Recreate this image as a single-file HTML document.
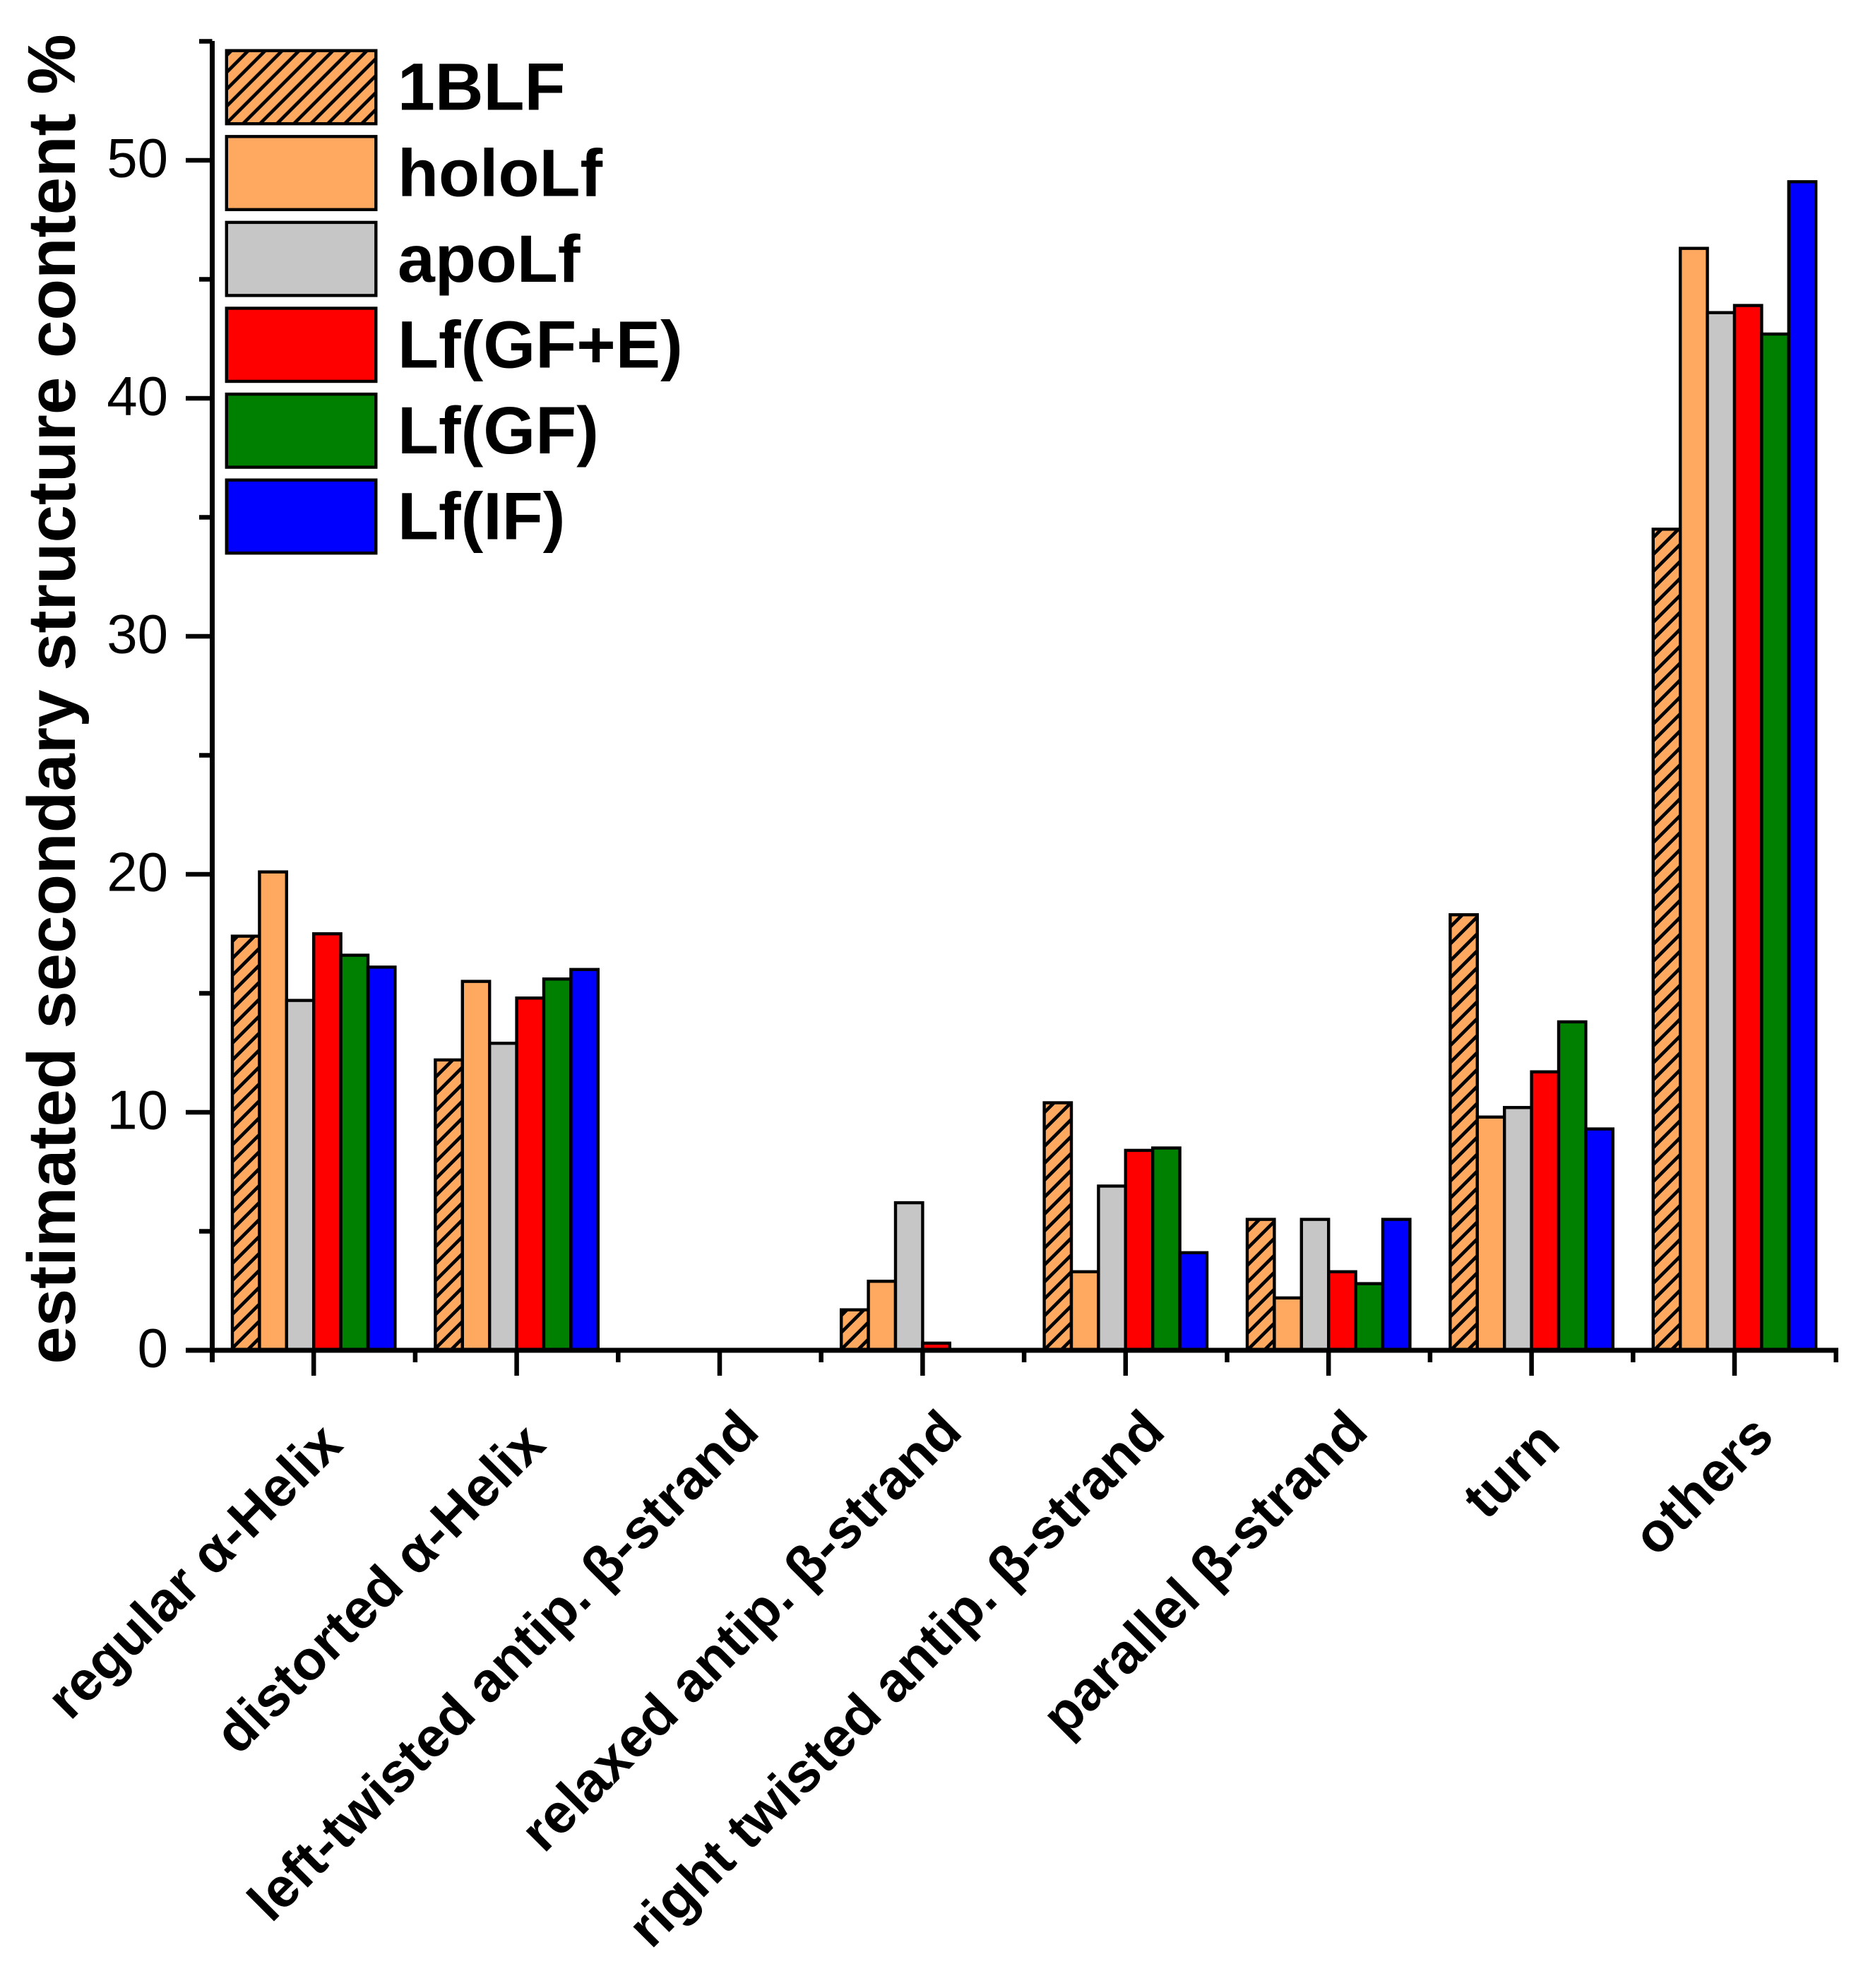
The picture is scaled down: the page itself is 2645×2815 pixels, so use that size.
<!DOCTYPE html>
<html lang="en">
<head>
<meta charset="utf-8">
<title>Estimated secondary structure content</title>
<style>
html,body{margin:0;padding:0;background:#fff;width:2645px;height:2815px;overflow:hidden}
svg{display:block}
text{font-family:"Liberation Sans",Arial,sans-serif;fill:#000}
</style>
</head>
<body>
<svg id="chart" xmlns="http://www.w3.org/2000/svg" width="2645" height="2815" viewBox="0 0 2645 2815">
<defs>
<pattern id="hatch" patternUnits="userSpaceOnUse" width="24" height="24" patternTransform="translate(6,0)">
<rect width="24" height="24" fill="#FFA860"/>
<path d="M-6 6L6 -6M-6 30L30 -6M18 30L30 18" stroke="#000" stroke-width="4.8" fill="none"/>
</pattern>
<pattern id="hatch-legend" patternUnits="userSpaceOnUse" width="24" height="24" patternTransform="translate(15.3,0)">
<rect width="24" height="24" fill="#FFA860"/>
<path d="M-6 6L6 -6M-6 30L30 -6M18 30L30 18" stroke="#000" stroke-width="4.8" fill="none"/>
</pattern>
</defs>
<rect width="2645" height="2815" fill="#fff"/>
<g id="bars"></g>
<g id="axes"></g>
<g id="legend"></g>
<text transform="translate(106,990) rotate(-90)" text-anchor="middle" font-size="96" font-weight="700">estimated secondary structure content %</text>
</svg>
<script>
const categories = ["regular α-Helix","distorted α-Helix","left-twisted antip. β-strand","relaxed antip. β-strand","right twisted antip. β-strand","parallel β-strand","turn","others"];
const seriesNames = ["1BLF","holoLf","apoLf","Lf(GF+E)","Lf(GF)","Lf(IF)"];
const seriesFills = ["url(#hatch)","#FFA860","#C6C6C6","#FF0000","#008000","#0000FF"];
const s1BLF = [17.4,12.2,0,1.7,10.4,5.5,18.3,34.5];
const sHoloLf = [20.1,15.5,0,2.9,3.3,2.2,9.8,46.3];
const sApoLf = [14.7,12.9,0,6.2,6.9,5.5,10.2,43.6];
const sLfGFE = [17.5,14.8,0,0.3,8.4,3.3,11.7,43.9];
const sLfGF = [16.6,15.6,0,0,8.5,2.8,13.8,42.7];
const sLfIF = [16.1,16.0,0,0,4.1,5.5,9.3,49.1];
const seriesValues = [s1BLF,sHoloLf,sApoLf,sLfGFE,sLfGF,sLfIF];
const yMajorTicks = [0,10,20,30,40,50];
const yMinorTicks = [5,15,25,35,45,55];

const NS = "http://www.w3.org/2000/svg";
const X0 = 300.5, CAT_W = 287.4, BAR_W = 38.4, Y0 = 1912, UNIT = 33.7;
const LABEL_SHIFT_X = [44,44,59,59,59,59,43.5,59];
const LABEL_BASE_Y = [2049,2049,2030.5,2030.5,2030.5,2030.5,2046.5,2037];
function xCat(i){ return X0 + CAT_W * i; }
function xCenter(i){ return xCat(i) + CAT_W / 2; }
function yVal(v){ return Y0 - v * UNIT; }
function make(tag, attrs, parent){
  const el = document.createElementNS(NS, tag);
  for (const k in attrs) el.setAttribute(k, attrs[k]);
  parent.appendChild(el);
  return el;
}
const barsG = document.getElementById("bars");
const axesG = document.getElementById("axes");
const legendG = document.getElementById("legend");

seriesValues.forEach(function(vals, s){
  vals.forEach(function(v, c){
    if (v <= 0) return;
    const x = xCenter(c) - 3 * BAR_W + s * BAR_W;
    const r = make("rect", {x:x, y:yVal(v), width:BAR_W, height:Y0 - yVal(v), fill:seriesFills[s], stroke:"#000", "stroke-width":4.4}, barsG);
    
    
  });
});

function line(x1,y1,x2,y2,w,parent){
  return make("line", {x1:x1,y1:y1,x2:x2,y2:y2,stroke:"#000","stroke-width":w}, parent);
}
const yLine = line(X0, 58, X0, 1929, 7, axesG);


const xLine = line(263, Y0, xCat(8) + 3.3, Y0, 7, axesG);



yMajorTicks.forEach(function(v){
  const t = line(263, yVal(v), X0, yVal(v), 6.5, axesG);
  
  
  const l = make("text", {x:238, y:yVal(v) + 23.5, "text-anchor":"end", "font-size":78}, axesG);
  l.textContent = String(v);
  
  
});
yMinorTicks.forEach(function(v){
  const t = line(282, yVal(v), X0, yVal(v), 6.5, axesG);
  
  
});
for (let i = 1; i <= 8; i++){
  const t = line(xCat(i), Y0, xCat(i), 1929, 6.5, axesG);
  
  
}
categories.forEach(function(name, i){
  const cx = xCenter(i);
  const t = line(cx, Y0, cx, 1948, 6.5, axesG);
  
  
  const ax = cx + LABEL_SHIFT_X[i], ay = LABEL_BASE_Y[i];
  const l = make("text", {x:ax, y:ay, "text-anchor":"end", "font-size":78.5, "font-weight":700, transform:"rotate(-45 " + ax + " " + ay + ")"}, axesG);
  l.textContent = name;
  
  
});

const LEG_X = 320.8, LEG_Y = 71.7, LEG_W = 211.5, LEG_H = 103.5, LEG_STEP = 121.6;
seriesNames.forEach(function(name, i){
  const y = LEG_Y + i * LEG_STEP;
  const b = make("rect", {x:LEG_X, y:y, width:LEG_W, height:LEG_H, fill:(i === 0 ? "url(#hatch-legend)" : seriesFills[i]), stroke:"#000", "stroke-width":4.4}, legendG);
  
  
  const l = make("text", {x:563, y:LEG_Y + i * LEG_STEP + 84, "font-size":95, "font-weight":700}, legendG);
  l.textContent = name;
  
  
});
</script>
</body>
</html>
